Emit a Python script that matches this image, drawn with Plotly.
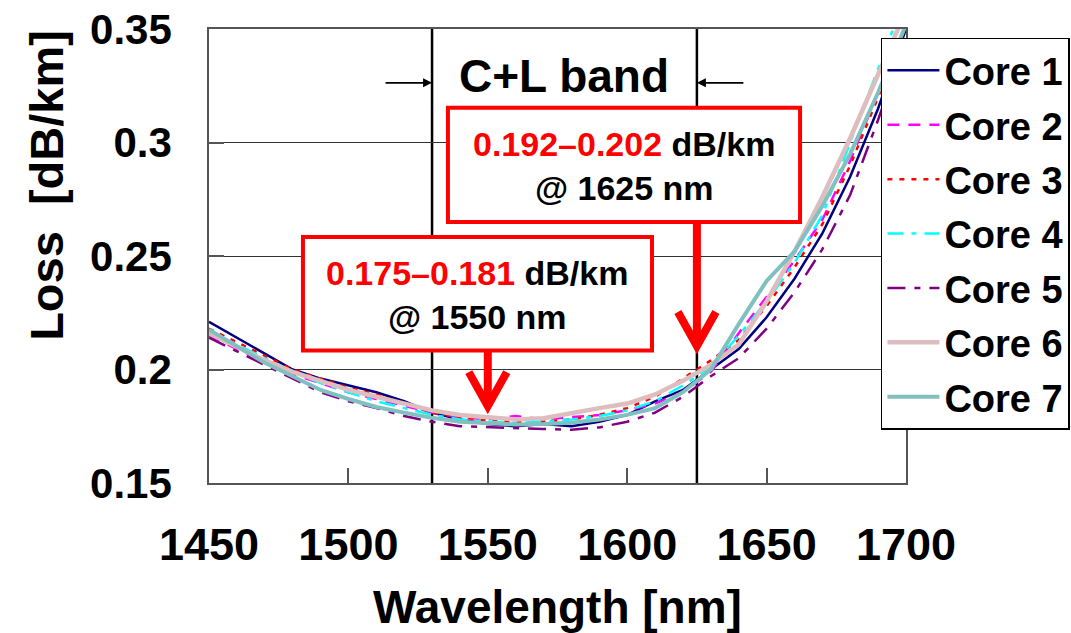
import plotly.graph_objects as go

# ---------------- data ----------------
wavelength = [1450, 1460, 1470, 1480, 1490, 1500, 1510, 1520, 1530, 1540, 1550, 1560, 1570,
              1580, 1590, 1600, 1610, 1620, 1630, 1640, 1650, 1660, 1670, 1680, 1690, 1700]

core1 = [0.221, 0.214, 0.207, 0.200, 0.196, 0.193, 0.190, 0.186, 0.181, 0.178, 0.176, 0.175, 0.176,
         0.175, 0.177, 0.180, 0.186, 0.191, 0.200, 0.209, 0.223, 0.240, 0.260, 0.285, 0.315, 0.350]
core2 = [0.215, 0.209, 0.203, 0.198, 0.194, 0.190, 0.187, 0.184, 0.181, 0.179, 0.178, 0.1795, 0.178,
         0.179, 0.180, 0.182, 0.185, 0.190, 0.199, 0.216, 0.232, 0.248, 0.266, 0.292, 0.322, 0.352]
core3 = [0.218, 0.212, 0.206, 0.200, 0.196, 0.192, 0.189, 0.185, 0.181, 0.179, 0.1775, 0.177, 0.177,
         0.178, 0.180, 0.183, 0.188, 0.196, 0.204, 0.213, 0.228, 0.245, 0.264, 0.290, 0.320, 0.352]
core4 = [0.217, 0.211, 0.205, 0.199, 0.194, 0.190, 0.186, 0.183, 0.180, 0.178, 0.177, 0.1765, 0.177,
         0.178, 0.1795, 0.182, 0.186, 0.193, 0.201, 0.215, 0.230, 0.247, 0.268, 0.300, 0.332, 0.365]
core5 = [0.214, 0.208, 0.202, 0.196, 0.190, 0.186, 0.183, 0.1795, 0.177, 0.175, 0.1745, 0.174, 0.1738,
         0.1735, 0.1745, 0.177, 0.181, 0.188, 0.197, 0.205, 0.218, 0.234, 0.253, 0.277, 0.310, 0.345]
core6 = [0.216, 0.210, 0.204, 0.199, 0.195, 0.191, 0.188, 0.185, 0.182, 0.180, 0.179, 0.178, 0.1785,
         0.181, 0.183, 0.185, 0.189, 0.195, 0.202, 0.211, 0.230, 0.252, 0.276, 0.302, 0.330, 0.358]
core7 = [0.2175, 0.210, 0.203, 0.197, 0.191, 0.187, 0.1835, 0.181, 0.1787, 0.177, 0.1762, 0.1758, 0.176,
         0.1765, 0.178, 0.180, 0.183, 0.190, 0.200, 0.220, 0.239, 0.252, 0.272, 0.295, 0.322, 0.352]

core_names = ["Core 1", "Core 2", "Core 3", "Core 4", "Core 5", "Core 6", "Core 7"]
core_values = [core1, core2, core3, core4, core5, core6, core7]

x_ticks = [1450, 1500, 1550, 1600, 1650, 1700]
y_ticks = [0.15, 0.2, 0.25, 0.3, 0.35]
y_tick_labels = ["0.15", "0.2", "0.25", "0.3", "0.35"]

band_edges = [1530, 1625]            # C+L band
loss_1550 = "0.175–0.181"
loss_1625 = "0.192–0.202"

# ---------------- styles ----------------
FONT = "Liberation Sans, Arial, sans-serif"
styles = [
    dict(color="#000080", width=2.5, dash="solid"),
    dict(color="#FF00FF", width=2.5, dash="12px,9px"),
    dict(color="#FF0000", width=2.5, dash="5px,7px"),
    dict(color="#00FFFF", width=2.5, dash="16px,8px,5px,8px"),
    dict(color="#800080", width=2.5, dash="18px,9px,6px,9px"),
    dict(color="#DDBDBD", width=4.5, dash="solid"),
    dict(color="#80C0C0", width=4, dash="solid"),
]

fig = go.Figure()
for i, (name, vals) in enumerate(zip(core_names, core_values)):
    fig.add_trace(go.Scatter(x=wavelength, y=vals, mode="lines", name=name,
                             legendgroup=name, line=styles[i]))

# ---------------- band edges ----------------
for xb in band_edges:
    fig.add_shape(type="line", xref="x", yref="y domain", x0=xb, x1=xb, y0=0, y1=1,
                  line=dict(color="black", width=2.5), layer="below")

# ---------------- boxes with arrows ----------------
boxes = [
    # (x0, x1, y0, y1, tip_x, tip_y, text_x, text_y, range, wl)
    (1535.7, 1662.0, 0.265, 0.3153, 1625, 0.2095, 1598.9, 0.2897, loss_1625, "1625"),
    (1483.7, 1608.9, 0.2084, 0.2584, 1550, 0.183, 1546.3, 0.2328, loss_1550, "1550"),
]
for (x0, x1, y0, y1, tx, ty, cx, cy, rng, wl) in boxes:
    fig.add_shape(type="rect", xref="x", yref="y", x0=x0, x1=x1, y0=y0, y1=y1,
                  line=dict(color="#FF0000", width=4), fillcolor="white", layer="above")
    fig.add_shape(type="line", xref="x", yref="y", x0=tx, x1=tx, y0=y0, y1=ty + 0.004,
                  line=dict(color="#FF0000", width=8), layer="above")
    fig.add_shape(type="path", xref="x", yref="y", xsizemode="pixel", ysizemode="pixel",
                  xanchor=tx, yanchor=ty, path="M-19,36 L0,2 L19,36",
                  line=dict(color="#FF0000", width=8), layer="above")
    fig.add_annotation(x=cx, y=cy, xref="x", yref="y", showarrow=False,
                       text=f"<span style='color:#FF0000'>{rng}</span> dB/km<br>@ {wl} nm",
                       font=dict(family=FONT, size=34, color="black", weight="bold"),
                       align="center")

# ---------------- C+L band label ----------------
fig.add_annotation(x=sum(band_edges) / 2, y=0.3294, xref="x", yref="y", showarrow=False,
                   text="C+L band", font=dict(family=FONT, size=46, color="black", weight="bold"))
fig.add_annotation(x=band_edges[0], y=0.3263, xref="x", yref="y", text="", showarrow=True,
                   ax=-48, ay=0, arrowhead=2, arrowsize=1, arrowwidth=1.8, arrowcolor="black")
fig.add_annotation(x=band_edges[1], y=0.3263, xref="x", yref="y", text="", showarrow=True,
                   ax=48, ay=0, arrowhead=2, arrowsize=1, arrowwidth=1.8, arrowcolor="black")

# ---------------- y-axis title (placed like the reference, above centre) ----------------
fig.add_annotation(x=-0.2324, y=0.6545, xref="paper", yref="paper", showarrow=False,
                   text="Loss  [dB/km]", textangle=-90, xanchor="center", yanchor="middle",
                   font=dict(family=FONT, size=47, color="black", weight="bold"))

# ---------------- layout ----------------
fig.update_layout(
    width=1071, height=633,
    margin=dict(l=209, r=165, t=29, b=150, autoexpand=False),
    paper_bgcolor="white", plot_bgcolor="white",
    font=dict(family=FONT, color="black"),
    showlegend=True,
    legend=dict(x=0.964, y=0.981, xanchor="left", yanchor="top",
                bgcolor="white", bordercolor="black", borderwidth=1.5,
                font=dict(family=FONT, size=38, color="black", weight="bold"),
                tracegroupgap=2, itemwidth=52),
    xaxis=dict(range=[1450, 1700], tickvals=x_ticks, ticktext=[str(v) for v in x_ticks],
               ticks="inside", ticklen=15, tickcolor="#555", tickwidth=1.5,
               showline=True, linecolor="#555", linewidth=1.5, mirror=True,
               showgrid=False, zeroline=False, ticklabelstandoff=21,
               tickfont=dict(family=FONT, size=45, weight="bold"),
               title=dict(text="Wavelength [nm]", standoff=22,
                          font=dict(family=FONT, size=46, weight="bold"))),
    yaxis=dict(range=[0.15, 0.35], tickvals=y_ticks, ticktext=y_tick_labels,
               ticks="inside", ticklen=15, tickcolor="#555", tickwidth=1.5,
               showline=True, linecolor="#555", linewidth=1.5, mirror=True,
               showgrid=True, gridcolor="#333", gridwidth=1, zeroline=False,
               ticklabelstandoff=27,
               tickfont=dict(family=FONT, size=42, weight="bold")),
)

fig.write_html("out.html")
